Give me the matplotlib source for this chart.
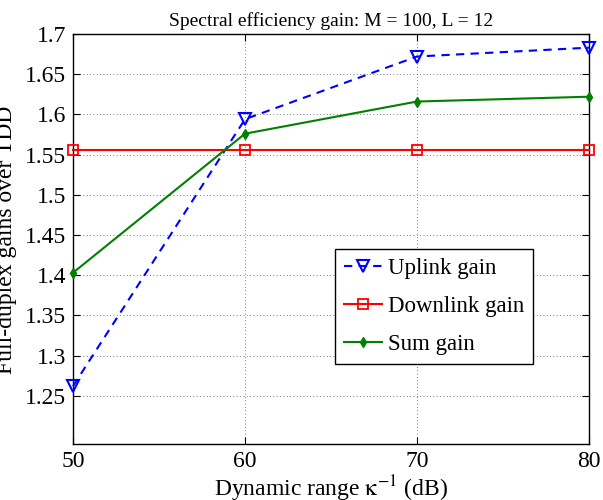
import matplotlib
matplotlib.use("Agg")
import matplotlib.pyplot as plt
import numpy as np

plt.rcParams['font.family'] = ['Liberation Serif', 'DejaVu Serif']
plt.rcParams['mathtext.fontset'] = 'stix'

dynamic_range = [50, 60, 70, 80]
uplink_gain = [1.262, 1.594, 1.672, 1.683]
downlink_gain = [1.556, 1.556, 1.556, 1.556]
sum_gain = [1.403, 1.576, 1.616, 1.622]
yticks = [1.25, 1.3, 1.35, 1.4, 1.45, 1.5, 1.55, 1.6, 1.65, 1.7]
ytick_labels = ['1.25', '1.3', '1.35', '1.4', '1.45', '1.5', '1.55', '1.6', '1.65', '1.7']
xticks = [50, 60, 70, 80]

fig = plt.figure(figsize=(6.03, 5.0), dpi=100)
ax = fig.add_axes([73/603, 1-444/500, (589-73)/603, (444-34)/500])

ax.plot(dynamic_range, uplink_gain, color='#0000ff', linestyle='--', linewidth=1.5,
        marker='v', markersize=8, markerfacecolor='none', markeredgewidth=1.5,
        dashes=(4, 3), label='Uplink gain', clip_on=False, zorder=3)
ax.plot(dynamic_range, downlink_gain, color='#ff0000', linestyle='-', linewidth=1.5,
        marker='s', markersize=7, markerfacecolor='none', markeredgewidth=1.3,
        label='Downlink gain', clip_on=False, zorder=3)
ax.plot(dynamic_range, sum_gain, color='#008000', linestyle='-', linewidth=1.5,
        marker='d', markersize=5, markerfacecolor='#008000',
        label='Sum gain', clip_on=False, zorder=3)

ax.set_xlim(50, 80)
ax.set_ylim(1.19, 1.7)
ax.set_xticks(xticks)
ax.set_xticklabels([str(x) for x in xticks])
ax.set_yticks(yticks)
ax.set_yticklabels(ytick_labels)
ax.tick_params(direction='in', top=True, right=True, labelsize=17, length=5, width=0.8, pad=5)
ax.grid(True, linestyle=(0, (1, 3)), color='#555555', linewidth=0.6)
for s in ax.spines.values():
    s.set_linewidth(1.0)

ax.set_title('Spectral efficiency gain: M = 100, L = 12', fontsize=14, pad=6)
ax.set_xlabel(r'Dynamic range $\mathrm{\kappa}^{-1}$ (dB)', fontsize=17, labelpad=1)
fig.text(7/603, 1-240/500, 'Full-duplex gains over TDD', rotation=90, fontsize=17,
         ha='center', va='center')

leg = ax.legend(loc='upper left', bbox_to_anchor=(0.508, 0.475), fontsize=16.5,
                frameon=True, fancybox=False, edgecolor='black', framealpha=1,
                handlelength=1.65, handletextpad=0.25, borderpad=0.4, labelspacing=0.72,
                borderaxespad=0)
leg.get_frame().set_linewidth(1.0)

fig.savefig('out.png', dpi=100)
